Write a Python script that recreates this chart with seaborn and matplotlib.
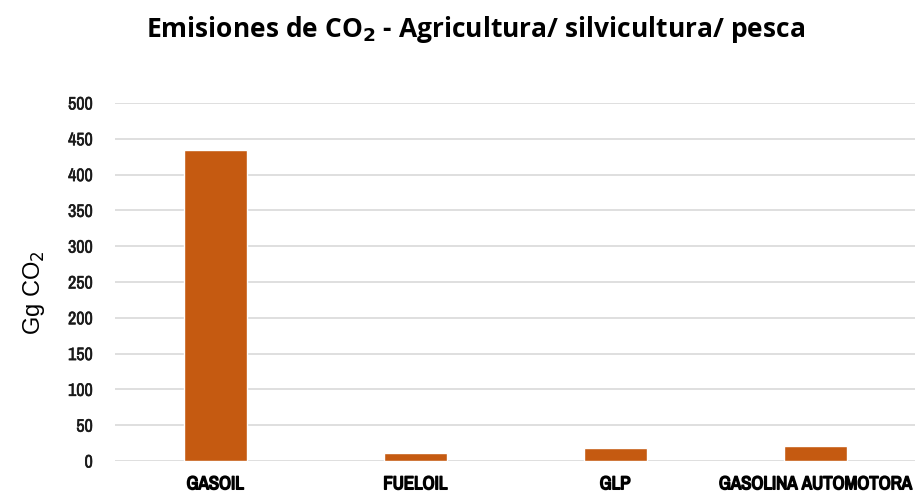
import pandas as pd
import matplotlib
matplotlib.use('Agg')
import matplotlib.pyplot as plt
import matplotlib.patheffects as pe
from matplotlib import font_manager
import seaborn as sns

# emisiones por combustible (Gg CO2)
combustibles = ['GASOIL', 'FUELOIL', 'GLP', 'GASOLINA AUTOMOTORA']
emisiones = [434, 10.5, 18.8, 20.5]
yticks = [0, 50, 100, 150, 200, 250, 300, 350, 400, 450, 500]

df = pd.DataFrame({'combustible': combustibles, 'emision': emisiones})

# buscar una fuente estrecha si hay
nombres = sorted({f.name for f in font_manager.fontManager.ttflist})
estrecha = 'Liberation Sans'
for n in nombres:
    if 'Narrow' in n or 'Condensed' in n:
        estrecha = n
        break

sns.set_theme(style='white')
plt.rcParams['font.family'] = [estrecha, 'DejaVu Sans']

fig = plt.figure(figsize=(9.15, 4.99), dpi=100)
ax = fig.add_axes([0.1257, 0.0762, 0.8743, 0.7174])

sns.barplot(data=df, x='combustible', y='emision', color='#C55A11',
            saturation=1, width=0.315, ax=ax, zorder=3)

ax.set_ylim(0, 500)
ax.set_xlim(-0.5, 3.5)
ax.set_yticks(yticks)
ax.set_yticklabels([str(v) for v in yticks], fontsize=13, color='#1a1a1a')
ax.set_xticks(range(len(combustibles)))
ax.set_xticklabels(combustibles, fontsize=13.5, fontweight='bold', color='#000000')
for t in ax.get_xticklabels():
    t.set_path_effects([pe.withStroke(linewidth=1.1, foreground='#000000')])
for t in ax.get_yticklabels():
    t.set_path_effects([pe.withStroke(linewidth=0.4, foreground='#1a1a1a')])
ax.tick_params(axis='x', pad=11, length=0)
ax.tick_params(axis='y', pad=16, length=0)
ax.grid(axis='y', color='#D9D9D9', linewidth=1.2, zorder=0)
for s in ax.spines.values():
    s.set_visible(False)

ax.set_xlabel('')
ax.set_ylabel('Gg CO$_2$', fontsize=17, family='Liberation Sans', color='#000000')
ax.yaxis.set_label_coords(-0.085, 0.47)

fig.text(0.52, 0.941, 'Emisiones de CO$_\\mathbf{2}$ - Agricultura/ silvicultura/ pesca',
         ha='center', va='center', fontsize=19, fontweight='bold',
         family='Open Sans', color='#000000')

fig.savefig('out.png', dpi=100)
